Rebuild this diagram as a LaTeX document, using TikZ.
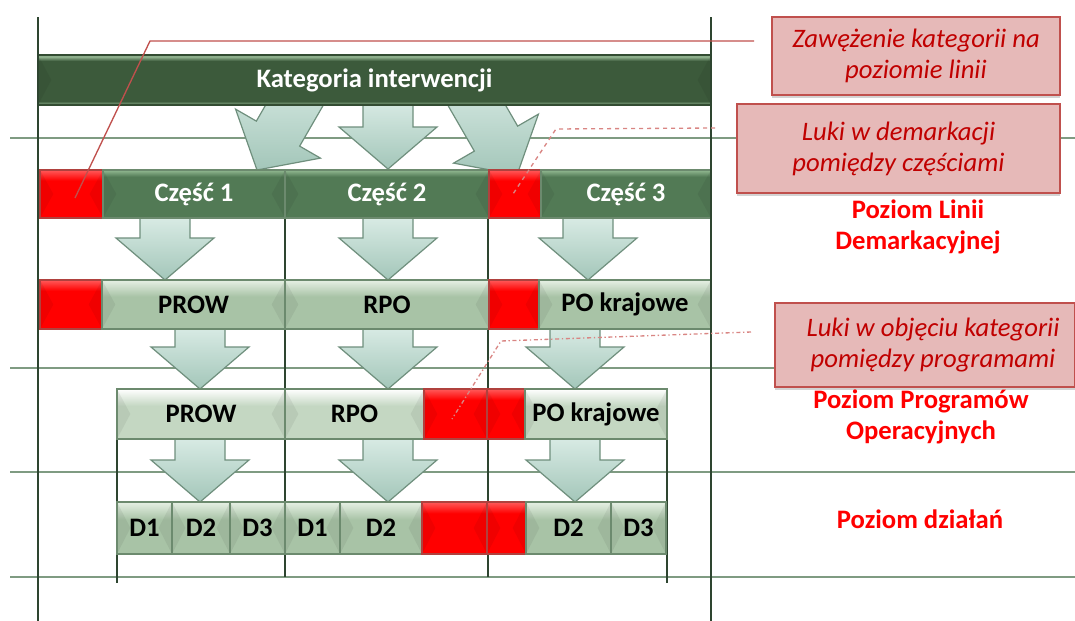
\documentclass[tikz,border=0pt]{standalone}
\usepackage{fontspec}
\setmainfont{Carlito}
\usepackage{tikz}
\usetikzlibrary{shadows}
\usepackage{xcolor}

\definecolor{gridgreen}{HTML}{7F9B82}
\definecolor{darkline}{HTML}{2E4530}
\definecolor{katgreen}{HTML}{3C5A3B}
\definecolor{katlight}{HTML}{8DAE8B}
\definecolor{partgreen}{HTML}{527A55}
\definecolor{partlight}{HTML}{93BA92}
\definecolor{palegreen}{HTML}{A8C3A6}
\definecolor{palelight}{HTML}{E6F0E4}
\definecolor{paler}{HTML}{C4D7C2}
\definecolor{boxedge}{HTML}{6C8A6E}
\definecolor{gapred}{HTML}{FF0000}
\definecolor{gaplight}{HTML}{FF5A5A}
\definecolor{gapedge}{HTML}{B0413E}
\definecolor{arrowtop}{HTML}{DDEEE8}
\definecolor{arrowbot}{HTML}{A3C6B9}
\definecolor{arrowedge}{HTML}{6F8F7D}
\definecolor{notefill}{HTML}{E6B9B8}
\definecolor{noteedge}{HTML}{C0504D}
\definecolor{notetext}{HTML}{C00000}
\definecolor{leadred}{HTML}{C0504D}
\definecolor{leadpale}{HTML}{D98583}

\pgfdeclareverticalshading{katshade}{100bp}{color(0bp)=(katlight); color(25bp)=(katlight); color(29bp)=(katgreen); color(69bp)=(katgreen); color(73bp)=(katlight); color(100bp)=(katlight)}
\pgfdeclareverticalshading{partshade}{100bp}{color(0bp)=(partgreen); color(25bp)=(partgreen); color(68bp)=(partgreen); color(75bp)=(partlight); color(100bp)=(partlight)}
\pgfdeclareverticalshading{progshade}{100bp}{color(0bp)=(palegreen); color(25bp)=(palegreen); color(58bp)=(palegreen); color(75bp)=(palelight); color(100bp)=(palelight)}
\pgfdeclareverticalshading{lowshade}{100bp}{color(0bp)=(paler); color(25bp)=(paler); color(58bp)=(paler); color(75bp)=(white); color(100bp)=(white)}
\pgfdeclareverticalshading{redshade}{100bp}{color(0bp)=(gapred); color(25bp)=(gapred); color(64bp)=(gapred); color(75bp)=(gaplight); color(100bp)=(gaplight)}

\tikzset{
  gridline/.style={draw=gridgreen, line width=1.8pt},
  partline/.style={draw=darkline, line width=1pt},
  axisline/.style={draw=darkline, line width=2.2pt},
  bar/.style={draw=boxedge, line width=1.2pt, outer sep=0pt, inner sep=0pt,
    shade, font=\bfseries\fontsize{20}{24}\selectfont,
    path picture={
      \fill[black, opacity=0.06] (path picture bounding box.north west) -- (path picture bounding box.south west) -- ([xshift=10pt]path picture bounding box.west) -- cycle;
      \fill[black, opacity=0.06] (path picture bounding box.north east) -- (path picture bounding box.south east) -- ([xshift=-10pt]path picture bounding box.east) -- cycle;
    }},
  katbox/.style={bar, draw=katgreen!85!black, shading=katshade, text=white},
  partbox/.style={bar, shading=partshade, text=white},
  progbox/.style={bar, shading=progshade, text=black},
  lowbox/.style={bar, shading=lowshade, text=black},
  gapbox/.style={bar, draw=gapedge, shading=redshade},
  flow/.style={draw=arrowedge, line width=0.9pt, top color=arrowtop, bottom color=arrowbot, line join=miter},
  note/.style={fill=notefill, draw=noteedge, line width=1.2pt, outer sep=0pt, inner sep=0pt,
    drop shadow={opacity=0.35, shadow xshift=0pt, shadow yshift=-2pt},
    text=notetext, align=center, font=\itshape\fontsize{20}{23.25}\selectfont},
  level/.style={text=gapred, align=center, font=\bfseries\fontsize{20}{23.25}\selectfont},
  leadline/.style={draw=leadred, line width=1pt},
}

\newcommand{\boxcell}[7]{%
  \node[#1, anchor=north west, minimum width={(#4-#3)*0.75pt}, minimum height={(#6-#5)*0.75pt}] (#2) at (#3,#5) {#7};}
\newcommand{\blockarr}[3][]{%
  \draw[flow, shift={(#2)}, #1] (-25,-#3) -- (25,-#3) -- (25,-42) -- (49,-42) -- (0,0) -- (-49,-42) -- (-25,-42) -- cycle;}

\begin{document}
\begin{tikzpicture}[x=0.75pt, y=-0.75pt]
\useasboundingbox (0,0) rectangle (1075,621);

\foreach \y in {138,368,472,577}
  \draw[gridline] (10,\y) -- (1075,\y);
\foreach \x in {285,488}
  \draw[partline] (\x,218) -- (\x,577);
\foreach \x in {117,667}
  \draw[partline] (\x,439) -- (\x,583);

% arrows out of the category bar
\blockarr[rotate=-30]{257,170}{110}
\blockarr{388,169}{75}
\blockarr[rotate=30]{517,175}{110}

\boxcell{katbox}{kat}{38}{711}{55}{105}{Kategoria interwencji}

% arrows between the levels
\foreach \x in {165,388,588} {\blockarr{\x,280}{68}}
\foreach \x in {200,388,575} {\blockarr{\x,389}{67}}
\foreach \x in {200,388,575} {\blockarr{\x,502}{70}}

% level of the demarcation line
\boxcell{gapbox}{gapa}{40}{103}{170}{218}{}
\boxcell{partbox}{part1}{103}{285}{170}{218}{Część 1}
\boxcell{partbox}{part2}{285}{489}{170}{218}{Część 2}
\boxcell{gapbox}{gapb}{489}{541}{170}{218}{}
\boxcell{partbox}{part3}{541}{711}{170}{218}{Część 3}

\boxcell{gapbox}{gapc}{40}{102}{280}{329}{}
\boxcell{progbox}{prowa}{102}{285}{280}{329}{PROW}
\boxcell{progbox}{rpoa}{285}{489}{280}{329}{RPO}
\boxcell{gapbox}{gapd}{489}{539}{280}{329}{}
\boxcell{progbox}{poa}{539}{711}{280}{329}{PO krajowe}

% level of operational programmes
\boxcell{lowbox}{prowb}{117}{285}{389}{439}{PROW}
\boxcell{lowbox}{rpob}{285}{424}{389}{439}{RPO}
\boxcell{gapbox}{gape}{424}{487}{389}{439}{}
\boxcell{gapbox}{gapf}{487}{525}{389}{439}{}
\boxcell{lowbox}{pob}{525}{667}{389}{439}{PO krajowe}

% level of actions
\boxcell{progbox}{d1a}{117}{172}{502}{554}{D1}
\boxcell{progbox}{d2a}{172}{230}{502}{554}{D2}
\boxcell{progbox}{d3a}{230}{285}{502}{554}{D3}
\boxcell{progbox}{d1b}{285}{340}{502}{554}{D1}
\boxcell{progbox}{d2b}{340}{422}{502}{554}{D2}
\boxcell{gapbox}{gapg}{422}{487}{502}{554}{}
\boxcell{gapbox}{gaph}{487}{526}{502}{554}{}
\boxcell{progbox}{d2c}{526}{611}{502}{554}{D2}
\boxcell{progbox}{d3c}{611}{666}{502}{554}{D3}

\draw[axisline] (38,17) -- (38,621);
\draw[axisline] (711,17) -- (711,621);

% notes
\boxcell{note}{note1}{772}{1060}{17}{95}{Zawężenie kategorii na\\poziomie linii}
\boxcell{note}{note2}{737}{1060}{104}{193}{Luki w demarkacji\\pomiędzy częściami}
\boxcell{note}{note3}{775}{1075}{303}{387}{\hspace*{12pt}Luki w objęciu kategorii\\\hspace*{12pt}pomiędzy programami}

\coordinate (l1s) at (754,41);
\coordinate (l1k) at (150,41);
\coordinate (l2s) at (715,128);
\coordinate (l2k) at (556,129);
\coordinate (l3s) at (751,332);
\coordinate (l3k) at (501,341);
\draw[leadline] (l1s) -- (l1k) -- (75,198) coordinate (l1e);
\draw[leadline, draw=leadpale, dashed] (l2s) -- (l2k) -- (513,194) coordinate (l2e);
\draw[leadline, draw=leadpale, dash dot] (l3s) -- (l3k) -- (452,419) coordinate (l3e);

\node[level] (lvl1) at (918,227) {Poziom Linii\\Demarkacyjnej};
\node[level] (lvl2) at (921,417) {Poziom Programów\\Operacyjnych};
\node[level] (lvl3) at (920,519) {Poziom działań};
\end{tikzpicture}
\end{document}
